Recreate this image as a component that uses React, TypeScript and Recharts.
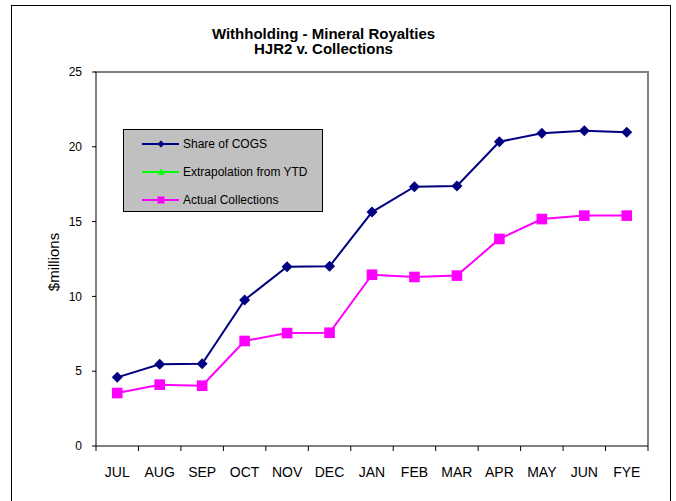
import { LineChart, Line, XAxis, YAxis, Legend } from "recharts";

const months = ["JUL", "AUG", "SEP", "OCT", "NOV", "DEC", "JAN", "FEB", "MAR", "APR", "MAY", "JUN", "FYE"];
const shareOfCogs = [4.59, 5.46, 5.5, 9.76, 11.99, 12.01, 15.64, 17.33, 17.38, 20.34, 20.9, 21.08, 20.97];
const extrapolation: (number | null)[] = [null, null, null, null, null, null, null, null, null, null, null, null, null];
const actualCollections = [3.54, 4.1, 4.03, 7.02, 7.55, 7.57, 11.45, 11.3, 11.39, 13.84, 15.17, 15.4, 15.4];
const yTicks = [0, 5, 10, 15, 20, 25];

const NAVY = "#000080";
const LIME = "#00FF00";
const MAGENTA = "#FF00FF";
const FONT = "'Liberation Sans', Arial, sans-serif";

const seriesList = [
  { key: "cogs", name: "Share of COGS", color: NAVY, shape: "diamond" },
  { key: "extrap", name: "Extrapolation from YTD", color: LIME, shape: "triangle" },
  { key: "actual", name: "Actual Collections", color: MAGENTA, shape: "square" },
];

const data = months.map((m, i) => ({
  month: m,
  cogs: shareOfCogs[i],
  extrap: extrapolation[i],
  actual: actualCollections[i],
}));

function marker(shape: string, cx: number, cy: number, r: number, color: string, key?: any) {
  if (shape === "diamond")
    return <polygon key={key} points={`${cx},${cy - r} ${cx + r},${cy} ${cx},${cy + r} ${cx - r},${cy}`} fill={color} />;
  if (shape === "triangle")
    return <polygon key={key} points={`${cx},${cy - r} ${cx + r},${cy + r * 0.8} ${cx - r},${cy + r * 0.8}`} fill={color} />;
  return <rect key={key} x={cx - r} y={cy - r} width={r * 2} height={r * 2} fill={color} />;
}

const dotFor = (shape: string, r: number, color: string) => (p: any) => {
  if (p.cx == null || p.cy == null || p.value == null) return <g key={p.index} />;
  return marker(shape, p.cx, p.cy, r, color, p.index);
};

// Excel-style category axis: tick marks sit between months, labels in the middle
function MonthTick(props: any) {
  const { x, y, payload, index } = props;
  const half = payload.offset || 21.25;
  const axisY = y - 21;
  return (
    <g>
      <line x1={x - half} x2={x - half} y1={axisY} y2={axisY + 5} stroke="#000" />
      {index === months.length - 1 && <line x1={x + half} x2={x + half} y1={axisY} y2={axisY + 5} stroke="#000" />}
      <text x={x} y={y} dy="0.71em" textAnchor="middle" fontSize={14} fill="#000" fontFamily={FONT}>
        {payload.value}
      </text>
    </g>
  );
}

function LegendBox() {
  return (
    <div style={{ position: "relative", width: 198, height: 81, background: "#c0c0c0", border: "1px solid #000", fontFamily: FONT }}>
      {seriesList.map((s, i) => (
        <div key={s.key} style={{ position: "absolute", left: 0, top: 6 + i * 28, height: 16, width: 198 }}>
          <svg width={60} height={16} style={{ position: "absolute", left: 0, top: 0 }}>
            <line x1={18} x2={55} y1={8} y2={8} stroke={s.color} strokeWidth={2} />
            {marker(s.shape, 37, 8, 3.5, s.color)}
          </svg>
          <span style={{ position: "absolute", left: 59, top: 1, fontSize: 12, lineHeight: "14px", color: "#000", whiteSpace: "nowrap" }}>
            {s.name}
          </span>
        </div>
      ))}
    </div>
  );
}

export default function App() {
  return (
    <div style={{ position: "absolute", left: 0, top: 0, width: 676, height: 501, overflow: "hidden", background: "#fff", fontFamily: FONT }}>
      {/* outer frame + gray top/right edge of the plot area */}
      <div style={{ position: "absolute", left: 11, top: 5, width: 658, height: 520, border: "1px solid #000" }} />
      <div
        style={{
          position: "absolute",
          left: 95,
          top: 71,
          width: 554,
          height: 375,
          boxSizing: "border-box",
          borderTop: "2px solid #808080",
          borderRight: "2px solid #808080",
        }}
      />
      <div style={{ position: "absolute", left: 0, top: 25.5, width: 647, textAlign: "center", fontWeight: "bold", fontSize: 15, lineHeight: "15.5px", color: "#000" }}>
        Withholding - Mineral Royalties
        <br />
        HJR2 v. Collections
      </div>
      <LineChart
        width={676}
        height={501}
        data={data}
        margin={{ top: 72, right: 28, bottom: 0, left: 0 }}
        style={{ position: "absolute", left: 0, top: 0 }}
      >
        <XAxis
          dataKey="month"
          scale="band"
          height={55}
          interval={0}
          tickSize={0}
          tickMargin={21}
          tickLine={false}
          axisLine={{ stroke: "#000" }}
          tick={<MonthTick />}
        />
        <YAxis
          domain={[0, 25]}
          ticks={yTicks}
          width={96}
          tickSize={4}
          tickMargin={10}
          tick={{ fontSize: 12, fill: "#000", fontFamily: FONT }}
          tickLine={{ stroke: "#000" }}
          axisLine={{ stroke: "#000" }}
          label={{
            content: () => (
              <text transform="translate(59,262) rotate(-90)" textAnchor="middle" fontSize={15} fill="#000" fontFamily={FONT}>
                $millions
              </text>
            ),
          }}
        />
        <Legend
          layout="vertical"
          align="center"
          verticalAlign="middle"
          wrapperStyle={{ left: 123, top: 129, width: 200 }}
          content={() => <LegendBox />}
        />
        <Line
          dataKey="cogs"
          name="Share of COGS"
          stroke={NAVY}
          strokeWidth={2}
          dot={dotFor("diamond", 5.5, NAVY)}
          activeDot={false}
          isAnimationActive={false}
        />
        <Line
          dataKey="extrap"
          name="Extrapolation from YTD"
          stroke={LIME}
          strokeWidth={2}
          dot={dotFor("triangle", 5, LIME)}
          activeDot={false}
          isAnimationActive={false}
        />
        <Line
          dataKey="actual"
          name="Actual Collections"
          stroke={MAGENTA}
          strokeWidth={2}
          dot={dotFor("square", 5.3, MAGENTA)}
          activeDot={false}
          isAnimationActive={false}
        />
      </LineChart>
    </div>
  );
}
